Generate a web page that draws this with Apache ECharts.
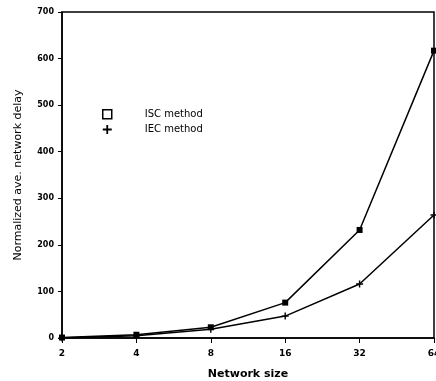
<!DOCTYPE html>
<html><head><meta charset="utf-8">
<script src="https://cdn.jsdelivr.net/npm/echarts@6/dist/echarts.min.js"></script>
<style>html,body{margin:0;padding:0;background:#fff}#c{width:436px;height:381px}</style>
</head><body><div id="c"></div>
<script>
const categories = ['2','4','8','16','32','64'];
const iscValues = [1, 7, 23, 76, 232, 617];
const iecValues = [0, 5, 19, 47, 116, 264];
const yTicks = [0,100,200,300,400,500,600,700];

const plusPath = 'path://M4,0 L6,0 L6,4 L10,4 L10,6 L6,6 L6,10 L4,10 L4,6 L0,6 L0,4 L4,4 Z';
const chart = echarts.init(document.getElementById('c'));
chart.setOption({
  animation:false,
  backgroundColor:'#fff',
  grid:{left:62,right:2,top:12,bottom:43,show:true,borderColor:'#000',borderWidth:1.5,backgroundColor:'transparent',
    outerBoundsMode:'none',containLabel:false},
  legend:{
    orient:'vertical', left:97, top:104, itemGap:5, itemWidth:9, itemHeight:9,
    textStyle:{fontFamily:'DejaVu Sans',fontSize:10,color:'#000',padding:[0,0,0,28]},
    data:[
      {name:'ISC method',icon:'rect',itemStyle:{color:'#fff',borderColor:'#000',borderWidth:1.5}},
      {name:'IEC method',icon:plusPath,itemStyle:{color:'#000'}}
    ]
  },
  xAxis:{
    type:'category', data:categories, boundaryGap:false,
    axisLine:{lineStyle:{color:'#000',width:1.5}},
    axisTick:{show:true,alignWithLabel:true,length:5,lineStyle:{color:'#000'}},
    axisLabel:{color:'#000',fontFamily:'DejaVu Sans',fontSize:9,fontWeight:'bold',margin:11},
    name:'Network size', nameLocation:'middle', nameGap:31,
    nameTextStyle:{color:'#000',fontFamily:'DejaVu Sans',fontSize:11,fontWeight:'bold'}
  },
  yAxis:{
    type:'value', min:0, max:700, interval:100,
    axisLine:{show:true,lineStyle:{color:'#000',width:1.5}},
    axisTick:{show:true,length:4,lineStyle:{color:'#000'}},
    splitLine:{show:false},
    axisLabel:{color:'#000',fontFamily:'DejaVu Sans',fontSize:8,fontWeight:'bold',margin:8,
      formatter:v=>yTicks.includes(v)?String(v):''},
    name:'Normalized ave. network delay', nameLocation:'middle', nameGap:38,
    nameTextStyle:{color:'#000',fontFamily:'DejaVu Sans',fontSize:11}
  },
  series:[
    {name:'ISC method',type:'line',data:iscValues,symbol:'rect',symbolSize:6,
      lineStyle:{color:'#000',width:1.5},itemStyle:{color:'#000'}},
    {name:'IEC method',type:'line',data:iecValues,symbol:plusPath,symbolSize:7,
      lineStyle:{color:'#000',width:1.5},itemStyle:{color:'#000'}}
  ]
});
</script></body></html>
